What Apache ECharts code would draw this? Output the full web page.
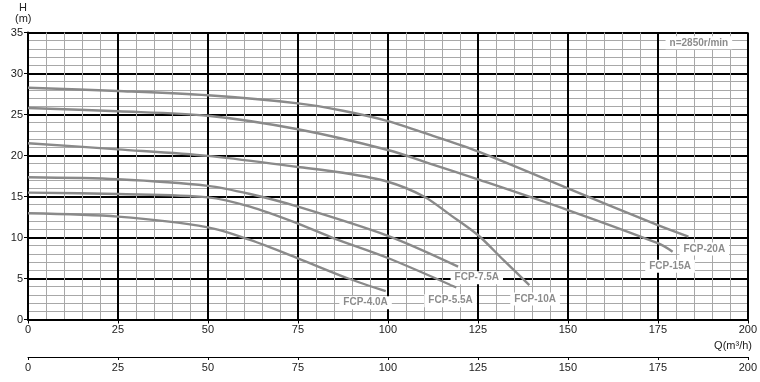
<!DOCTYPE html>
<html><head><meta charset="utf-8">
<script src="https://cdn.jsdelivr.net/npm/echarts@6/dist/echarts.min.js"></script>
<style>html,body{margin:0;padding:0;background:#fff}#c{width:760px;height:382px}</style>
</head><body><div id="c"></div><script>
// ---- data ----
const qTicks = [0, 25, 50, 75, 100, 125, 150, 175, 200];
const hTicks = [0, 5, 10, 15, 20, 25, 30, 35];
const pumpNames = ['FCP-4.0A', 'FCP-5.5A', 'FCP-7.5A', 'FCP-10A', 'FCP-15A', 'FCP-20A'];
const flow40 = [0, 25, 50, 61.7, 75, 89, 99.4];
const head40 = [12.95, 12.54, 11.24, 9.7, 7.46, 5.0, 3.45];
const flow55 = [0, 25, 50, 61.7, 75, 85, 100, 119];
const head55 = [15.47, 15.3, 14.9, 13.76, 11.7, 9.9, 7.5, 3.9];
const flow75 = [0, 25, 50, 61.7, 75, 100, 119.5];
const head75 = [17.34, 17.1, 16.3, 15.3, 13.76, 10.2, 6.45];
const flow10 = [0, 25, 50, 75, 87.5, 100, 110, 117.5, 125, 132, 139.3];
const head10 = [21.5, 20.75, 19.95, 18.6, 17.9, 16.8, 15.0, 12.7, 10.3, 7.3, 4.2];
const flow15 = [0, 25, 50, 75, 100, 112.5, 125, 150, 175, 179.1];
const head15 = [25.8, 25.4, 24.85, 23.2, 20.67, 18.9, 17.1, 13.35, 9.3, 8.27];
const flow20 = [0, 25, 50, 75, 87.5, 100, 112.5, 125, 150, 175, 183.5];
const head20 = [28.27, 27.87, 27.34, 26.36, 25.46, 24.2, 22.4, 20.5, 16.0, 11.5, 10.1];
const speedNote = 'n=2850r/min';

const flows = [flow40, flow55, flow75, flow10, flow15, flow20];
const heads = [head40, head55, head75, head10, head15, head20];
// annotation anchor points (data coords) for each curve label
const labelAt = [[93.8, 2.05], [117.4, 2.3], [124.7, 5.1], [140.9, 2.5], [178.4, 6.5], [187.9, 8.6]];

const chart = echarts.init(document.getElementById('c'), null, {renderer: 'canvas'});
const FONT = 'Liberation Sans, Arial, sans-serif';
const labelStyle = {
  show: true, position: 'inside', fontFamily: FONT, fontSize: 10, fontWeight: 'bold',
  color: '#8c8c8c', backgroundColor: '#fff', padding: [2, 4, 1, 4]
};

const series = pumpNames.map((name, i) => {
  const mp = [{name: name, coord: labelAt[i], value: name}];
  if (i === 5) mp.push({name: speedNote, coord: [186.4, 33.75], value: speedNote});
  return {
    name: name, type: 'line', xAxisIndex: 0, yAxisIndex: 0,
    data: flows[i].map((q, k) => [q, heads[i][k]]),
    showSymbol: false, symbol: 'none', smooth: 0.3,
    lineStyle: {color: '#8a8a8a', width: 2.4}, z: 3,
    markPoint: {
      symbol: 'circle', symbolSize: 0, itemStyle: {color: 'rgba(0,0,0,0)'},
      label: Object.assign({}, labelStyle, {formatter: p => p.name}),
      data: mp, z: 5, animation: false
    }
  };
});

const axisTxt = {fontFamily: FONT, fontSize: 11, color: '#222'};
chart.setOption({
  animation: false,
  backgroundColor: '#fff',
  grid: [
    {left: 28, width: 721, top: 32.5, height: 287, containLabel: false},
    {left: 28, width: 721, top: 356, height: 1, containLabel: false}
  ],
  xAxis: [
    {
      type: 'value', gridIndex: 0, min: qTicks[0], max: qTicks[qTicks.length - 1], interval: 25,
      axisLine: {show: true, onZero: false, lineStyle: {color: '#000', width: 2}},
      axisTick: {show: true, length: 4, lineStyle: {color: '#000', width: 1}},
      axisLabel: Object.assign({margin: 5}, axisTxt),
      splitLine: {show: true, lineStyle: {color: '#000', width: 2}},
      minorTick: {show: false, splitNumber: 5},
      minorSplitLine: {show: true, lineStyle: {color: '#a8a8a8', width: 1}}
    },
    {
      type: 'value', gridIndex: 1, position: 'bottom', min: qTicks[0], max: qTicks[qTicks.length - 1], interval: 25,
      axisLine: {show: true, onZero: false, lineStyle: {color: '#000', width: 1}},
      axisTick: {show: true, length: 3, lineStyle: {color: '#000', width: 1}},
      axisLabel: Object.assign({margin: 5}, axisTxt),
      splitLine: {show: false}
    }
  ],
  yAxis: [
    {
      type: 'value', gridIndex: 0, min: hTicks[0], max: hTicks[hTicks.length - 1], interval: 5,
      axisLine: {show: true, onZero: false, lineStyle: {color: '#000', width: 2}},
      axisTick: {show: true, length: 4, lineStyle: {color: '#000', width: 1}},
      axisLabel: Object.assign({margin: 5}, axisTxt),
      splitLine: {show: true, lineStyle: {color: '#000', width: 2}},
      minorTick: {show: false, splitNumber: 5},
      minorSplitLine: {show: true, lineStyle: {color: '#a8a8a8', width: 1}}
    },
    {type: 'value', gridIndex: 1, show: false, min: 0, max: 1}
  ],
  graphic: [
    {type: 'text', left: 19, top: 2, style: {text: 'H', font: '11px ' + FONT, fill: '#222'}},
    {type: 'text', left: 15, top: 13, style: {text: '(m)', font: '11px ' + FONT, fill: '#222'}},
    {type: 'text', right: 8, top: 340, style: {text: 'Q(m³/h)', font: '11px ' + FONT, fill: '#222'}}
  ],
  series: series
});
</script></body></html>
